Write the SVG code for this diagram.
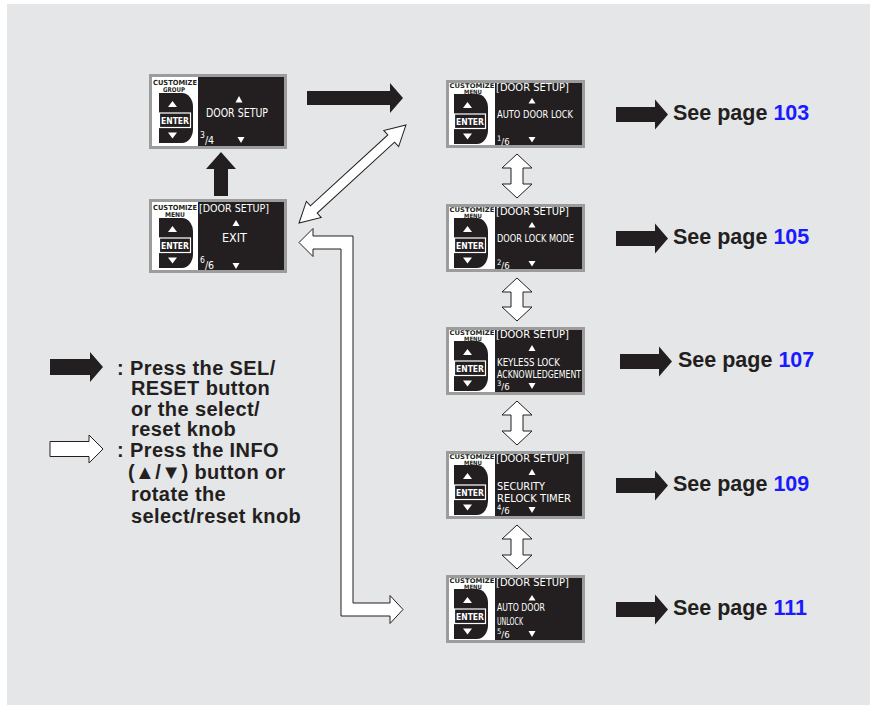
<svg xmlns="http://www.w3.org/2000/svg" xmlns:xlink="http://www.w3.org/1999/xlink" width="877" height="713" viewBox="0 0 877 713">
<style>
.panel{fill:#e5e6e8}
.bezel{fill:#9c9c9c}
.face{fill:#fff}
.lcd{fill:#231f20}
.blk{fill:#231f20}
.wht{fill:#fff;stroke:#231f20;stroke-width:1;stroke-linejoin:miter}
.tri{fill:#fff}
.lbl{font-family:"DejaVu Sans Condensed","DejaVu Sans",sans-serif;font-stretch:condensed;font-weight:bold;fill:#231f20}
.ent{font-family:"DejaVu Sans Condensed","DejaVu Sans",sans-serif;font-stretch:condensed;font-weight:bold;fill:#fff;font-size:9px}
.lt{font-family:"DejaVu Sans Condensed","DejaVu Sans",sans-serif;font-stretch:condensed;fill:#fff}
.see{font-family:"Liberation Sans",Arial,sans-serif;font-weight:bold;font-size:21.5px;fill:#231f20}
.num{fill:#1a1aff}
.leg{font-family:"Liberation Sans",Arial,sans-serif;font-weight:bold;font-size:20px;letter-spacing:0.4px;fill:#231f20}
</style>
<defs>
<g id="dbtn">
<path class="blk" d="M0,0 H23 A11,14 0 0 1 34,14 V36 A11,14 0 0 1 23,50 H0 Z"/>
<rect x="0.5" y="20" width="31" height="14.5" fill="#231f20" stroke="#fff" stroke-width="1.2"/>
<path class="tri" d="M13.5,8 L18,14 L9,14 Z"/>
<path class="tri" d="M9,39.5 L18,39.5 L13.5,45.5 Z"/>
</g>
</defs>
<rect class="panel" x="7" y="4" width="863" height="701"/>

<g id="connectors">
<path class="blk" d="M307,91 H390 V83 L403,98 L390,113 V105 H307 Z"/>
<path class="blk" d="M221,152 L236,169 L228,169 L228,196 L214,196 L214,169 L206,169 Z"/>
<path class="wht" transform="translate(352.5,174) rotate(-42.5)" d="M-72.5,0 L-52.5,-11 L-52.5,-5 L52.5,-5 L52.5,-11 L72.5,0 L52.5,11 L52.5,5 L-52.5,5 L-52.5,11 Z"/>
<path class="wht" d="M299,242.5 L313,228.5 L313,236 L353,236 L353,603 L390,603 L390,595.5 L403,609.5 L390,623.5 L390,616 L341,616 L341,249 L313,249 L313,256.5 Z"/>
<path class="wht" d="M517,154 L532,168 L523,168 L523,184 L532,184 L517,198 L502,184 L511,184 L511,168 L502,168 Z"/>
<path class="wht" d="M517,278 L532,292 L523,292 L523,307 L532,307 L517,321 L502,307 L511,307 L511,292 L502,292 Z"/>
<path class="wht" d="M517,401 L532,415 L523,415 L523,431 L532,431 L517,445 L502,431 L511,431 L511,415 L502,415 Z"/>
<path class="wht" d="M517,525 L532,539 L523,539 L523,555 L532,555 L517,569 L502,555 L511,555 L511,539 L502,539 Z"/>
<path class="blk" d="M616,107 H655 V99.5 L668,114.5 L655,129.5 V122 H616 Z"/>
<path class="blk" d="M616,231 H655 V223.5 L668,238.5 L655,253.5 V246 H616 Z"/>
<path class="blk" d="M620,354 H659 V346.5 L672,361.5 L659,376.5 V369 H620 Z"/>
<path class="blk" d="M616,478 H655 V470.5 L668,485.5 L655,500.5 V493 H616 Z"/>
<path class="blk" d="M616,602 H655 V594.5 L668,609.5 L655,624.5 V617 H616 Z"/>
</g>

<g id="node-group-door-setup">
<rect class="bezel" x="149" y="74" width="138" height="75"/>
<rect class="face" x="152" y="77" width="132" height="69"/>
<rect class="lcd" x="198" y="77" width="86" height="69"/>
<text class="lbl" x="153" y="84.5" font-size="7" textLength="44" lengthAdjust="spacingAndGlyphs">CUSTOMIZE</text>
<text class="lbl" x="163" y="92" font-size="6.5" textLength="22" lengthAdjust="spacingAndGlyphs">GROUP</text>
<use xlink:href="#dbtn" x="159" y="93"/>
<text class="ent" x="161" y="123.5" textLength="28" lengthAdjust="spacingAndGlyphs">ENTER</text>
<path class="tri" d="M239,96 L242.5,102.5 L235.5,102.5 Z"/>
<text class="lt" x="206" y="116.5" font-size="13" textLength="62" lengthAdjust="spacingAndGlyphs">DOOR SETUP</text>
<path class="tri" d="M237.5,137 L244.5,137 L241,143 Z"/>
<text class="lt" x="200" y="138" font-size="8.5">3<tspan font-size="10.5" dy="6">/4</tspan></text>
</g>

<g id="node-exit">
<rect class="bezel" x="149" y="199" width="138" height="74"/>
<rect class="face" x="152" y="202" width="132" height="68"/>
<rect class="lcd" x="198" y="202" width="86" height="68"/>
<text class="lbl" x="153" y="209.5" font-size="7" textLength="44" lengthAdjust="spacingAndGlyphs">CUSTOMIZE</text>
<text class="lbl" x="165" y="217" font-size="6.5" textLength="20" lengthAdjust="spacingAndGlyphs">MENU</text>
<use xlink:href="#dbtn" x="159" y="218"/>
<text class="ent" x="161" y="248.5" textLength="28" lengthAdjust="spacingAndGlyphs">ENTER</text>
<text class="lt" x="199" y="212" font-size="11" textLength="70" lengthAdjust="spacingAndGlyphs">[DOOR SETUP]</text>
<path class="tri" d="M236,220 L239.5,226 L232.5,226 Z"/>
<text class="lt" x="222" y="241.5" font-size="13" textLength="25" lengthAdjust="spacingAndGlyphs">EXIT</text>
<path class="tri" d="M232.5,263 L239.5,263 L236,269 Z"/>
<text class="lt" x="200" y="263" font-size="8.5">6<tspan font-size="10.5" dy="6">/6</tspan></text>
</g>

<g id="node-auto-door-lock">
<rect class="bezel" x="446" y="80" width="139" height="68"/>
<rect class="face" x="449" y="83" width="133" height="62"/>
<rect class="lcd" x="495" y="83" width="87" height="62"/>
<text class="lbl" x="449.5" y="87.5" font-size="6.5" textLength="45" lengthAdjust="spacingAndGlyphs">CUSTOMIZE</text>
<text class="lbl" x="464" y="94" font-size="6" textLength="18" lengthAdjust="spacingAndGlyphs">MENU</text>
<use xlink:href="#dbtn" x="454" y="94"/>
<text class="ent" x="456" y="124.5" textLength="28" lengthAdjust="spacingAndGlyphs">ENTER</text>
<text class="lt" x="496" y="90.5" font-size="10.5" textLength="73" lengthAdjust="spacingAndGlyphs">[DOOR SETUP]</text>
<path class="tri" d="M532,98 L535.5,103.5 L528.5,103.5 Z"/>
<text class="lt" x="497" y="117.5" font-size="10.5" textLength="76" lengthAdjust="spacingAndGlyphs">AUTO DOOR LOCK</text>
<path class="tri" d="M528.5,137 L535.5,137 L532,142.5 Z"/>
<text class="lt" x="497" y="141" font-size="7.5">1<tspan font-size="9.5" dy="3.5">/6</tspan></text>
</g>

<g id="node-door-lock-mode">
<rect class="bezel" x="446" y="204" width="139" height="68"/>
<rect class="face" x="449" y="207" width="133" height="62"/>
<rect class="lcd" x="495" y="207" width="87" height="62"/>
<text class="lbl" x="449.5" y="211.5" font-size="6.5" textLength="45" lengthAdjust="spacingAndGlyphs">CUSTOMIZE</text>
<text class="lbl" x="464" y="218" font-size="6" textLength="18" lengthAdjust="spacingAndGlyphs">MENU</text>
<use xlink:href="#dbtn" x="454" y="218"/>
<text class="ent" x="456" y="248.5" textLength="28" lengthAdjust="spacingAndGlyphs">ENTER</text>
<text class="lt" x="496" y="214.5" font-size="10.5" textLength="73" lengthAdjust="spacingAndGlyphs">[DOOR SETUP]</text>
<path class="tri" d="M532,222 L535.5,227.5 L528.5,227.5 Z"/>
<text class="lt" x="497" y="241.5" font-size="10.5" textLength="77" lengthAdjust="spacingAndGlyphs">DOOR LOCK MODE</text>
<path class="tri" d="M528.5,261 L535.5,261 L532,266.5 Z"/>
<text class="lt" x="497" y="265" font-size="7.5">2<tspan font-size="9.5" dy="3.5">/6</tspan></text>
</g>

<g id="node-keyless-lock">
<rect class="bezel" x="446" y="327" width="139" height="68"/>
<rect class="face" x="449" y="330" width="133" height="62"/>
<rect class="lcd" x="495" y="330" width="87" height="62"/>
<text class="lbl" x="449.5" y="334.5" font-size="6.5" textLength="45" lengthAdjust="spacingAndGlyphs">CUSTOMIZE</text>
<text class="lbl" x="464" y="341" font-size="6" textLength="18" lengthAdjust="spacingAndGlyphs">MENU</text>
<use xlink:href="#dbtn" x="454" y="341"/>
<text class="ent" x="456" y="371.5" textLength="28" lengthAdjust="spacingAndGlyphs">ENTER</text>
<text class="lt" x="496" y="337.5" font-size="10.5" textLength="73" lengthAdjust="spacingAndGlyphs">[DOOR SETUP]</text>
<path class="tri" d="M532,345 L535.5,351 L528.5,351 Z"/>
<text class="lt" x="497" y="365.5" font-size="10.5" textLength="63" lengthAdjust="spacingAndGlyphs">KEYLESS LOCK</text>
<text class="lt" x="497" y="377.5" font-size="10.5" textLength="84" lengthAdjust="spacingAndGlyphs">ACKNOWLEDGEMENT</text>
<path class="tri" d="M528.5,383 L535.5,383 L532,389 Z"/>
<text class="lt" x="497" y="386" font-size="7.5">3<tspan font-size="9.5" dy="3.5">/6</tspan></text>
</g>

<g id="node-security-relock-timer">
<rect class="bezel" x="446" y="451" width="139" height="68"/>
<rect class="face" x="449" y="454" width="133" height="62"/>
<rect class="lcd" x="495" y="454" width="87" height="62"/>
<text class="lbl" x="449.5" y="458.5" font-size="6.5" textLength="45" lengthAdjust="spacingAndGlyphs">CUSTOMIZE</text>
<text class="lbl" x="464" y="465" font-size="6" textLength="18" lengthAdjust="spacingAndGlyphs">MENU</text>
<use xlink:href="#dbtn" x="454" y="465"/>
<text class="ent" x="456" y="495.5" textLength="28" lengthAdjust="spacingAndGlyphs">ENTER</text>
<text class="lt" x="496" y="461.5" font-size="10.5" textLength="73" lengthAdjust="spacingAndGlyphs">[DOOR SETUP]</text>
<path class="tri" d="M532,469 L535.5,475 L528.5,475 Z"/>
<text class="lt" x="497" y="489.5" font-size="10.5" textLength="48" lengthAdjust="spacingAndGlyphs">SECURITY</text>
<text class="lt" x="497" y="501.5" font-size="10.5" textLength="74" lengthAdjust="spacingAndGlyphs">RELOCK TIMER</text>
<path class="tri" d="M528.5,507 L535.5,507 L532,513 Z"/>
<text class="lt" x="497" y="510" font-size="7.5">4<tspan font-size="9.5" dy="3.5">/6</tspan></text>
</g>

<g id="node-auto-door-unlock">
<rect class="bezel" x="446" y="575" width="139" height="68"/>
<rect class="face" x="449" y="578" width="133" height="62"/>
<rect class="lcd" x="495" y="578" width="87" height="62"/>
<text class="lbl" x="449.5" y="582.5" font-size="6.5" textLength="45" lengthAdjust="spacingAndGlyphs">CUSTOMIZE</text>
<text class="lbl" x="464" y="589" font-size="6" textLength="18" lengthAdjust="spacingAndGlyphs">MENU</text>
<use xlink:href="#dbtn" x="454" y="589"/>
<text class="ent" x="456" y="619.5" textLength="28" lengthAdjust="spacingAndGlyphs">ENTER</text>
<text class="lt" x="496" y="586" font-size="10.5" textLength="73" lengthAdjust="spacingAndGlyphs">[DOOR SETUP]</text>
<path class="tri" d="M532,595 L535.5,600.5 L528.5,600.5 Z"/>
<text class="lt" x="497" y="610.5" font-size="10.5" textLength="48" lengthAdjust="spacingAndGlyphs">AUTO DOOR</text>
<text class="lt" x="497" y="624.5" font-size="10.5" textLength="26" lengthAdjust="spacingAndGlyphs">UNLOCK</text>
<path class="tri" d="M528.5,631 L535.5,631 L532,637 Z"/>
<text class="lt" x="497" y="634" font-size="7.5">5<tspan font-size="9.5" dy="3.5">/6</tspan></text>
</g>

<g id="page-refs">
<text class="see" x="673" y="120">See page <tspan class="num">103</tspan></text>
<text class="see" x="673" y="244">See page <tspan class="num">105</tspan></text>
<text class="see" x="678" y="367">See page <tspan class="num">107</tspan></text>
<text class="see" x="673" y="491">See page <tspan class="num">109</tspan></text>
<text class="see" x="673" y="615">See page <tspan class="num">111</tspan></text>
</g>

<g id="legend">
<path class="blk" d="M50,359 H90 V352 L103,367 L90,382 V375 H50 Z"/>
<path class="wht" d="M50,441.5 H89 V435 L103,449 L89,463 V456.5 H50 Z"/>
<text class="leg" x="117" y="374.5">: Press the SEL/</text>
<text class="leg" x="131" y="395">RESET button</text>
<text class="leg" x="131" y="415.5">or the select/</text>
<text class="leg" x="131" y="436">reset knob</text>
<text class="leg" x="117" y="456.5">: Press the INFO</text>
<text class="leg" x="128" y="478.5">(▲/▼) button or</text>
<text class="leg" x="131" y="500.5">rotate the</text>
<text class="leg" x="131" y="523">select/reset knob</text>
</g>
</svg>
